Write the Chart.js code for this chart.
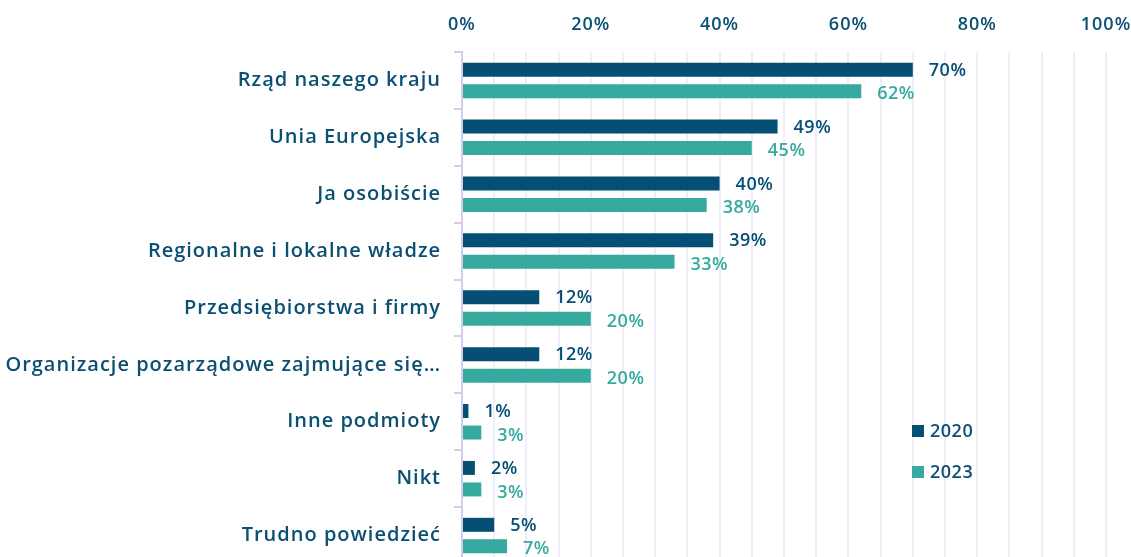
<!DOCTYPE html>
<html>
<head>
<meta charset="utf-8">
<script src="https://cdn.jsdelivr.net/npm/chart.js@4"></script>
<style>
    html, body { margin: 0; padding: 0; background: #ffffff; overflow: hidden; }
</style>
</head>
<body>
<canvas id="chart" width="1131" height="566"></canvas>
<script>
// ----------------------------------------
// Data
// ----------------------------------------
var categories = [
    'Rząd naszego kraju',
    'Unia Europejska',
    'Ja osobiście',
    'Regionalne i lokalne władze',
    'Przedsiębiorstwa i firmy',
    'Organizacje pozarządowe zajmujące się…',
    'Inne podmioty',
    'Nikt',
    'Trudno powiedzieć'
];
var seriesNames = ['2020', '2023'];
var values2020 = [70, 49, 40, 39, 12, 12, 1, 2, 5];
var values2023 = [62, 45, 38, 33, 20, 20, 3, 3, 7];
var xTickLabels = ['0%', '20%', '40%', '60%', '80%', '100%'];

var navy = '#044f73';
var teal = '#37aaa0';
var textColor = '#0b4f72';
var fontFamily = '"Open Sans", Roboto, sans-serif';

// Wider letter spacing for the axis labels (scales are drawn before the bars)
var spacing = {
    id: 'spacing',
    beforeDraw: function (chart) { chart.ctx.letterSpacing = '1px'; },
    beforeDatasetsDraw: function (chart) { chart.ctx.letterSpacing = '0.5px'; }
};

// Value labels at the end of each bar
var valueLabels = {
    id: 'valueLabels',
    afterDatasetsDraw: function (chart) {
        var ctx = chart.ctx;
        ctx.save();
        ctx.font = '600 18px ' + fontFamily;
        ctx.textAlign = 'left';
        ctx.textBaseline = 'middle';
        chart.data.datasets.forEach(function (ds, i) {
            var meta = chart.getDatasetMeta(i);
            ctx.fillStyle = ds.backgroundColor;
            meta.data.forEach(function (bar, j) {
                ctx.fillText(ds.data[j] + '%', bar.x + 16, bar.y + (i === 0 ? 1 : 3));
            });
        });
        ctx.restore();
    }
};

// Legend drawn inside the plot, lower right
var sideLegend = {
    id: 'sideLegend',
    afterDraw: function (chart) {
        var ctx = chart.ctx;
        var area = chart.chartArea;
        var x = area.right - 194;
        var y0 = area.top + 379;
        ctx.save();
        ctx.font = '600 18px ' + fontFamily;
        ctx.textAlign = 'left';
        ctx.textBaseline = 'middle';
        chart.data.datasets.forEach(function (ds, i) {
            var y = y0 + i * 41;
            ctx.fillStyle = ds.backgroundColor;
            ctx.fillRect(x, y - 6, 12, 12);
            ctx.fillStyle = textColor;
            ctx.fillText(ds.label, x + 18, y + 1);
        });
        ctx.restore();
    }
};

// ----------------------------------------
// Chart
// ----------------------------------------
var ctx = document.getElementById('chart').getContext('2d');
var config = {
    type: 'bar',
    data: {
        labels: categories,
        datasets: [{
            label: seriesNames[0],
            data: values2020,
            backgroundColor: navy,
            categoryPercentage: 0.756,
            barPercentage: 0.65
        }, {
            label: seriesNames[1],
            data: values2023,
            backgroundColor: teal,
            categoryPercentage: 0.756,
            barPercentage: 0.65
        }]
    },
    options: {
        indexAxis: 'y',
        responsive: false,
        animation: false,
        layout: { padding: { left: 0, right: 25, top: 0, bottom: 2 } },
        plugins: {
            legend: { display: false },
            tooltip: { enabled: false }
        },
        scales: {
            x: {
                position: 'top',
                min: 0,
                max: 100,
                grid: { color: '#efedfa', lineWidth: 2, drawTicks: false },
                border: { display: false },
                ticks: {
                    stepSize: 5,
                    autoSkip: false,
                    maxRotation: 0,
                    padding: 16,
                    color: textColor,
                    font: { family: fontFamily, size: 18, weight: '600' },
                    callback: function (v) {
                        return v % 20 === 0 ? xTickLabels[v / 20] : '';
                    }
                },
                afterFit: function (scale) {
                    scale.height = 52;
                    scale.paddingLeft = 0;
                    scale.paddingRight = 0;
                }
            },
            y: {
                grid: {
                    offset: true,
                    drawOnChartArea: false,
                    tickLength: 8,
                    color: '#d3ccef',
                    lineWidth: 2
                },
                border: { color: '#d3ccef', width: 2 },
                ticks: {
                    padding: 13,
                    color: textColor,
                    font: { family: fontFamily, size: 20, weight: '600' }
                },
                afterFit: function (scale) {
                    scale.width = 462;
                    scale.paddingTop = 0;
                    scale.paddingBottom = 0;
                }
            }
        }
    },
    plugins: [spacing, valueLabels, sideLegend]
};
var chart = new Chart(ctx, config);
</script>
</body>
</html>
